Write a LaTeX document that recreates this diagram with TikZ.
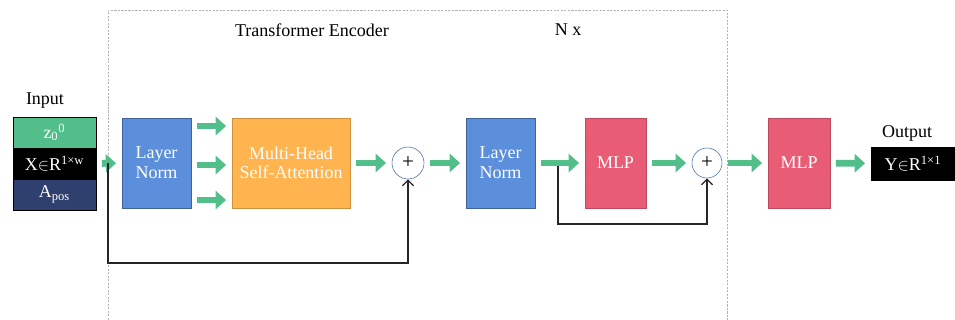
\documentclass[tikz,border=0pt]{standalone}
\usepackage{fontspec}
\setmainfont{Liberation Serif}
\usepackage{tikz}
\usetikzlibrary{arrows.meta, positioning, calc}

\definecolor{tgreen}{HTML}{52BE8A}
\definecolor{tblue}{HTML}{5B8FDB}
\definecolor{torange}{HTML}{FFB44F}
\definecolor{tred}{HTML}{E85D75}
\definecolor{tnavy}{HTML}{2F3F6E}

\begin{document}
\begin{tikzpicture}[
  x=0.025cm, y=0.025cm,
  every node/.style={font=\fontsize{12.8}{14}\selectfont},
  blk/.style={draw=tblue!70!black, fill=tblue, text=white, align=center,
              minimum width=1.725cm, minimum height=2.25cm, inner sep=1pt},
  row/.style={draw=black, text=white, minimum width=2.075cm,
              minimum height=0.775cm, inner sep=0pt},
  sum/.style={draw=tblue!80!black, fill=white, circle, minimum size=0.8cm,
              inner sep=0pt, font=\fontsize{15}{15}\selectfont},
  flow/.style={draw=tgreen, line width=0.17cm, shorten <=4, shorten >=4,
               -{Triangle[length=0.26cm, width=0.45cm]}},
  skip/.style={draw=black!85, line width=0.9pt, -{Straight Barb[length=4pt]}}
]
  \useasboundingbox (0,0) rectangle (955,320);

  % encoder frame
  \draw[dash pattern=on 1.5pt off 1pt, gray!60, line width=0.5pt]
    (108,0) -- (108,310) -- (727,310) -- (727,0);
  \node (title) at (312,290) {Transformer Encoder};
  \node (rep)   at (568,290) {N x};

  % input
  \node (inlbl) at (45,219) {Input};
  \node[row, fill=tgreen]  (z0)  at (54.5,187.5) {z\textsubscript{0}\textsuperscript{0}};
  \node[row, fill=black]   (xin) at (54.5,156.5) {X$\in$R\textsuperscript{1×w}};
  \node[row, fill=tnavy]   (apos) at (54.5,125.5) {A\textsubscript{pos}};

  % blocks
  \node[blk]                          (ln1)  at (156.5,157) {Layer\\Norm};
  \node[blk, fill=torange, draw=torange!80!black,
        minimum width=2.95cm]         (mhsa) at (291,157)   {Multi-Head\\Self-Attention};
  \node[sum]                          (add1) at (408,157)   {+};
  \node[blk]                          (ln2)  at (500.5,157) {Layer\\Norm};
  \node[blk, fill=tred, draw=tred!80!black,
        minimum width=1.525cm]        (mlp1) at (615.5,157) {MLP};
  \node[sum, minimum size=0.75cm]     (add2) at (707,157)   {+};
  \node[blk, fill=tred, draw=tred!80!black,
        minimum width=1.55cm]         (mlp2) at (799,157)   {MLP};

  % output
  \node (outlbl) at (907,187) {Output};
  \node[row, fill=black, minimum width=2.1cm, minimum height=0.825cm]
        (yout) at (913,156.5) {Y$\in$R\textsuperscript{1×1}};

  % main flow
  \draw[flow] (xin.east) -- (ln1.west);
  \foreach \dy in {37,-2,-37}
    \draw[flow] ([yshift=\dy*0.025cm]ln1.east) -- ([yshift=\dy*0.025cm]mhsa.west);
  \draw[flow] (mhsa) -- (add1);
  \draw[flow] (add1) -- (ln2);
  \draw[flow] (ln2) -- (mlp1);
  \draw[flow] (mlp1) -- (add2);
  \draw[flow] (add2) -- (mlp2);
  \draw[flow] (mlp2) -- (yout);

  % residual connections
  \coordinate (br1) at (108,157);
  \coordinate (br2) at (558,154);
  \draw[skip] (br1) -- ++(0,-100) -| (add1.south);
  \draw[skip] (br2) -- ++(0,-58) -| (add2.south);
\end{tikzpicture}
\end{document}
